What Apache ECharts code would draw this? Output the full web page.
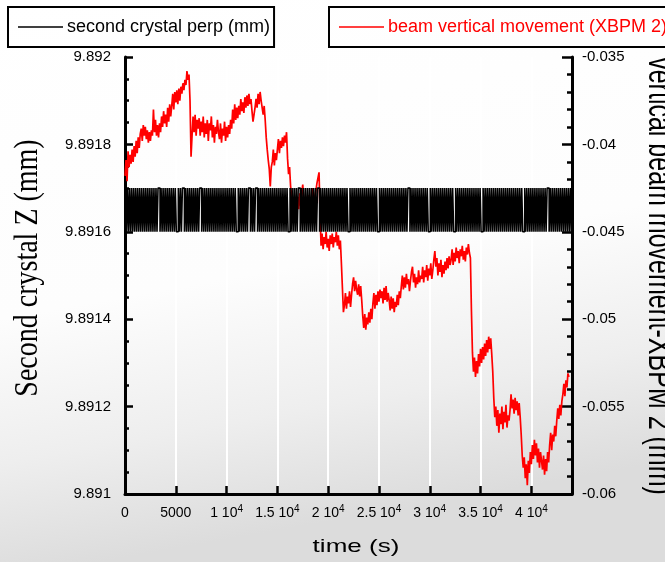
<!DOCTYPE html>
<html>
<head>
<meta charset="utf-8">
<script src="https://cdn.jsdelivr.net/npm/echarts@6/dist/echarts.min.js"></script>
<style>
  html, body { margin: 0; padding: 0; background: #fff; }
  #chart { width: 665px; height: 562px; }
</style>
</head>
<body>
<div id="chart"></div>
<script>
// Series names
const crystalName = 'second crystal perp (mm)';
const xbpmName = 'beam vertical movement (XBPM 2)';

// Both signals were logged every 100 s
const sampleStep = 100;

// Second crystal perpendicular position (mm), left axis
const crystalZ = [
  9.8916,9.8917,9.8916,9.8917,9.8916,9.8917,9.8916,9.8917,9.8916,9.8917,9.8916,9.8917,9.8916,9.8917,9.8916,9.8917,9.8916,9.8917,9.8916,9.8917,
  9.8916,9.8917,9.8916,9.8917,9.8916,9.8917,9.8916,9.8917,9.8916,9.8917,9.8916,9.8917,9.8916,9.8917,9.8917,9.8916,9.8917,9.8916,9.8917,9.8916,
  9.8917,9.8916,9.8917,9.8916,9.8917,9.8916,9.8917,9.8916,9.8917,9.8916,9.8917,9.8916,9.8916,9.8917,9.8916,9.8917,9.8916,9.8917,9.8917,9.8916,
  9.8917,9.8916,9.8917,9.8916,9.8917,9.8916,9.8917,9.8916,9.8917,9.8916,9.8917,9.8916,9.8917,9.8916,9.8917,9.8917,9.8916,9.8917,9.8916,9.8917,
  9.8916,9.8917,9.8916,9.8917,9.8916,9.8917,9.8916,9.8917,9.8916,9.8917,9.8916,9.8917,9.8916,9.8917,9.8916,9.8917,9.8916,9.8917,9.8916,9.8917,
  9.8916,9.8917,9.8916,9.8917,9.8916,9.8917,9.8916,9.8917,9.8916,9.8917,9.8916,9.8916,9.8917,9.8916,9.8917,9.8916,9.8917,9.8916,9.8917,9.8916,
  9.8917,9.8916,9.8917,9.8917,9.8916,9.8917,9.8916,9.8917,9.8916,9.8917,9.8917,9.8916,9.8917,9.8916,9.8917,9.8916,9.8917,9.8916,9.8917,9.8916,
  9.8917,9.8916,9.8917,9.8916,9.8917,9.8916,9.8917,9.8916,9.8917,9.8916,9.8917,9.8916,9.8917,9.8916,9.8917,9.8916,9.8917,9.8916,9.8917,9.8916,
  9.8917,9.8916,9.8916,9.8917,9.8916,9.8917,9.8916,9.8917,9.8916,9.8917,9.8916,9.8917,9.8917,9.8916,9.8917,9.8916,9.8917,9.8916,9.8917,9.8916,
  9.8917,9.8916,9.8917,9.8916,9.8917,9.8916,9.8917,9.8916,9.8917,9.8916,9.8917,9.8917,9.8916,9.8917,9.8916,9.8917,9.8916,9.8917,9.8916,9.8917,
  9.8916,9.8917,9.8916,9.8917,9.8916,9.8917,9.8916,9.8917,9.8916,9.8917,9.8916,9.8917,9.8916,9.8917,9.8916,9.8917,9.8916,9.8917,9.8916,9.8917,
  9.8916,9.8916,9.8917,9.8916,9.8917,9.8916,9.8917,9.8916,9.8917,9.8916,9.8917,9.8916,9.8917,9.8916,9.8917,9.8916,9.8917,9.8916,9.8917,9.8916,
  9.8917,9.8916,9.8917,9.8916,9.8917,9.8916,9.8917,9.8916,9.8917,9.8916,9.8916,9.8917,9.8916,9.8917,9.8916,9.8917,9.8916,9.8917,9.8916,9.8917,
  9.8916,9.8917,9.8916,9.8917,9.8916,9.8917,9.8916,9.8917,9.8916,9.8917,9.8916,9.8917,9.8916,9.8917,9.8916,9.8917,9.8916,9.8917,9.8916,9.8917,
  9.8917,9.8916,9.8917,9.8916,9.8917,9.8916,9.8917,9.8916,9.8917,9.8916,9.8917,9.8916,9.8917,9.8916,9.8917,9.8916,9.8917,9.8916,9.8917,9.8916,
  9.8916,9.8917,9.8916,9.8917,9.8916,9.8917,9.8916,9.8917,9.8916,9.8917,9.8916,9.8917,9.8916,9.8917,9.8916,9.8917,9.8916,9.8917,9.8916,9.8917,
  9.8916,9.8917,9.8916,9.8917,9.8916,9.8916,9.8917,9.8916,9.8917,9.8916,9.8917,9.8916,9.8917,9.8916,9.8917,9.8916,9.8917,9.8916,9.8917,9.8916,
  9.8917,9.8916,9.8917,9.8916,9.8917,9.8916,9.8917,9.8916,9.8917,9.8916,9.8917,9.8916,9.8916,9.8917,9.8916,9.8917,9.8916,9.8917,9.8916,9.8917,
  9.8916,9.8917,9.8916,9.8917,9.8916,9.8917,9.8916,9.8917,9.8916,9.8917,9.8916,9.8917,9.8916,9.8917,9.8916,9.8917,9.8916,9.8917,9.8916,9.8917,
  9.8916,9.8917,9.8916,9.8917,9.8916,9.8917,9.8916,9.8917,9.8916,9.8917,9.8916,9.8917,9.8916,9.8916,9.8917,9.8916,9.8917,9.8916,9.8917,9.8916,
  9.8917,9.8916,9.8917,9.8916,9.8917,9.8916,9.8917,9.8916,9.8917,9.8916,9.8917,9.8916,9.8917,9.8916,9.8917,9.8916,9.8917,9.8917,9.8916,9.8917,
  9.8916,9.8917,9.8916,9.8917,9.8916,9.8917,9.8916,9.8917,9.8916,9.8917,9.8916,9.8917,9.8916,9.8917,9.8916,9.8917,9.8916,9.8917,9.8916,9.8917,
  9.8916
];

// Vertical beam position at XBPM 2 (mm), right axis
const xbpmZ = [
  -0.0418,-0.0409,-0.0421,-0.0404,-0.0413,-0.0406,-0.0411,-0.0403,-0.0410,-0.0401,
  -0.0407,-0.0398,-0.0405,-0.0396,-0.0402,-0.0394,-0.0391,-0.0398,-0.0389,-0.0395,
  -0.0390,-0.0397,-0.0392,-0.0399,-0.0393,-0.0398,-0.0392,-0.0395,-0.0380,-0.0393,
  -0.0386,-0.0395,-0.0389,-0.0396,-0.0388,-0.0393,-0.0384,-0.0390,-0.0381,-0.0388,
  -0.0383,-0.0390,-0.0379,-0.0387,-0.0377,-0.0384,-0.0378,-0.0371,-0.0380,-0.0370,
  -0.0376,-0.0369,-0.0377,-0.0368,-0.0375,-0.0367,-0.0371,-0.0365,-0.0369,-0.0363,
  -0.0366,-0.0358,-0.0363,-0.0360,-0.0375,-0.0407,-0.0395,-0.0384,-0.0393,-0.0383,
  -0.0395,-0.0386,-0.0391,-0.0385,-0.0395,-0.0387,-0.0393,-0.0384,-0.0396,-0.0388,
  -0.0394,-0.0386,-0.0398,-0.0388,-0.0392,-0.0384,-0.0396,-0.0389,-0.0399,-0.0390,
  -0.0394,-0.0386,-0.0393,-0.0397,-0.0388,-0.0399,-0.0391,-0.0395,-0.0387,-0.0398,
  -0.0390,-0.0396,-0.0389,-0.0394,-0.0386,-0.0391,-0.0380,-0.0388,-0.0377,-0.0386,
  -0.0379,-0.0385,-0.0378,-0.0383,-0.0374,-0.0381,-0.0376,-0.0382,-0.0373,-0.0379,
  -0.0372,-0.0378,-0.0371,-0.0377,-0.0374,-0.0381,-0.0387,-0.0383,-0.0379,-0.0374,
  -0.0379,-0.0371,-0.0377,-0.0370,-0.0375,-0.0376,-0.0383,-0.0378,-0.0386,-0.0396,
  -0.0403,-0.0409,-0.0414,-0.0424,-0.0413,-0.0410,-0.0403,-0.0412,-0.0405,-0.0409,
  -0.0403,-0.0397,-0.0405,-0.0398,-0.0402,-0.0396,-0.0401,-0.0395,-0.0399,-0.0393,
  -0.0408,-0.0417,-0.0413,-0.0424,-0.0429,-0.0436,-0.0431,-0.0440,-0.0433,-0.0438,
  -0.0430,-0.0437,-0.0428,-0.0435,-0.0427,-0.0423,-0.0433,-0.0438,-0.0430,-0.0436,
  -0.0429,-0.0439,-0.0432,-0.0437,-0.0428,-0.0425,-0.0434,-0.0430,-0.0426,-0.0422,
  -0.0419,-0.0416,-0.0440,-0.0458,-0.0451,-0.0460,-0.0453,-0.0457,-0.0450,-0.0459,
  -0.0454,-0.0461,-0.0452,-0.0457,-0.0451,-0.0459,-0.0453,-0.0456,-0.0450,-0.0458,
  -0.0452,-0.0460,-0.0455,-0.0468,-0.0482,-0.0496,-0.0492,-0.0485,-0.0494,-0.0487,
  -0.0491,-0.0484,-0.0493,-0.0486,-0.0480,-0.0476,-0.0484,-0.0478,-0.0483,-0.0486,
  -0.0480,-0.0487,-0.0481,-0.0489,-0.0498,-0.0505,-0.0497,-0.0506,-0.0499,-0.0503,
  -0.0496,-0.0502,-0.0494,-0.0500,-0.0491,-0.0485,-0.0494,-0.0486,-0.0492,-0.0484,
  -0.0490,-0.0483,-0.0488,-0.0484,-0.0491,-0.0482,-0.0489,-0.0481,-0.0490,-0.0485,
  -0.0489,-0.0495,-0.0487,-0.0494,-0.0488,-0.0496,-0.0490,-0.0493,-0.0486,-0.0492,
  -0.0484,-0.0488,-0.0481,-0.0475,-0.0483,-0.0476,-0.0482,-0.0474,-0.0480,-0.0477,
  -0.0484,-0.0478,-0.0473,-0.0470,-0.0479,-0.0474,-0.0482,-0.0476,-0.0480,-0.0472,
  -0.0479,-0.0475,-0.0477,-0.0470,-0.0479,-0.0472,-0.0476,-0.0469,-0.0478,-0.0471,
  -0.0475,-0.0468,-0.0477,-0.0472,-0.0466,-0.0461,-0.0470,-0.0465,-0.0475,-0.0468,
  -0.0473,-0.0466,-0.0476,-0.0469,-0.0474,-0.0467,-0.0472,-0.0465,-0.0471,-0.0464,
  -0.0469,-0.0466,-0.0460,-0.0469,-0.0462,-0.0467,-0.0459,-0.0465,-0.0461,-0.0468,
  -0.0460,-0.0464,-0.0458,-0.0466,-0.0461,-0.0467,-0.0459,-0.0463,-0.0457,-0.0462,
  -0.0465,-0.0495,-0.0519,-0.0530,-0.0522,-0.0533,-0.0524,-0.0531,-0.0520,-0.0527,
  -0.0517,-0.0525,-0.0516,-0.0523,-0.0514,-0.0521,-0.0512,-0.0519,-0.0510,-0.0517,
  -0.0511,-0.0520,-0.0530,-0.0545,-0.0556,-0.0550,-0.0561,-0.0552,-0.0565,-0.0554,
  -0.0560,-0.0550,-0.0563,-0.0553,-0.0559,-0.0549,-0.0562,-0.0555,-0.0558,-0.0552,
  -0.0543,-0.0551,-0.0546,-0.0554,-0.0545,-0.0552,-0.0547,-0.0555,-0.0548,-0.0556,
  -0.0566,-0.0578,-0.0585,-0.0579,-0.0591,-0.0583,-0.0595,-0.0581,-0.0588,-0.0576,
  -0.0583,-0.0572,-0.0580,-0.0569,-0.0578,-0.0571,-0.0582,-0.0574,-0.0585,-0.0576,
  -0.0581,-0.0586,-0.0578,-0.0589,-0.0580,-0.0587,-0.0576,-0.0582,-0.0572,-0.0565,
  -0.0575,-0.0566,-0.0570,-0.0561,-0.0567,-0.0558,-0.0551,-0.0557,-0.0549,-0.0555,
  -0.0547,-0.0543,-0.0537,-0.0544,-0.0535,-0.0539,-0.0531,-0.0533
];

// Tick labels ("a^b" = a with superscript b)
const timeTickLabels = ['0', '5000', '1 10^4', '1.5 10^4', '2 10^4', '2.5 10^4', '3 10^4', '3.5 10^4', '4 10^4'];
const crystalTickLabels = ['9.891', '9.8912', '9.8914', '9.8916', '9.8918', '9.892'];
const xbpmTickLabels = ['-0.06', '-0.055', '-0.05', '-0.045', '-0.04', '-0.035'];

// Axis titles
const timeTitle = 'time (s)';
const crystalTitle = 'Second crystal Z (mm)';
const xbpmTitle = 'vertical beam movement-XBPM 2 (mm)';

const toPairs = (vals) => vals.map((v, i) => [i * sampleStep, v]);

const chart = echarts.init(document.getElementById('chart'), null, { renderer: 'canvas' });

const sans = '"Liberation Sans", Arial, Helvetica, sans-serif';
const serif = '"Liberation Serif", "Times New Roman", Times, serif';

// Boxed legend, one box per series
const legendBase = {
  orient: 'horizontal',
  top: 7,
  padding: [9, 4, 9, 10],
  icon: 'rect',
  itemWidth: 45,
  itemHeight: 1.3,
  itemGap: 0,
  borderColor: '#000',
  borderWidth: 2,
  borderRadius: 0,
  selectedMode: false,
  backgroundColor: 'transparent'
};

chart.setOption({
  animation: false,
  backgroundColor: {
    type: 'linear', x: 0, y: 0, x2: 0.15, y2: 1,
    colorStops: [
      { offset: 0, color: '#ffffff' },
      { offset: 0.55, color: '#fdfdfd' },
      { offset: 0.8, color: '#eeeeee' },
      { offset: 1, color: '#dcdcdc' }
    ]
  },
  legend: [
    Object.assign({}, legendBase, {
      left: 8,
      data: [crystalName],
      textStyle: { fontFamily: sans, fontSize: 18, lineHeight: 22, color: '#000', padding: [0, 0, 0, -1] }
    }),
    Object.assign({}, legendBase, {
      left: 329,
      data: [xbpmName],
      textStyle: { fontFamily: sans, fontSize: 18, lineHeight: 22, color: '#ff0000', padding: [0, 0, 0, -1] }
    })
  ],
  grid: {
    left: 125, right: 93, top: 57, bottom: 68,
    containLabel: false,
    outerBoundsMode: 'none'
  },
  xAxis: {
    type: 'value',
    min: 0, max: 44000, interval: 5000,
    axisLine: { show: true, lineStyle: { color: '#000', width: 3 } },
    axisTick: { show: true, inside: true, length: 8, lineStyle: { color: '#000', width: 2.5 } },
    splitLine: { show: true, lineStyle: { color: '#ffffff', width: 2 } },
    axisLabel: {
      margin: 10,
      color: '#000',
      fontFamily: sans,
      fontSize: 14,
      showMaxLabel: false,
      formatter: (v) => {
        const k = Math.round(v / 5000);
        if (Math.abs(v - k * 5000) > 1 || !timeTickLabels[k]) return '';
        const parts = timeTickLabels[k].split('^');
        return parts.length > 1 ? '{b|' + parts[0] + '}{s|' + parts[1] + '}' : '{b|' + parts[0] + '}';
      },
      rich: {
        b: { fontFamily: sans, fontSize: 14, color: '#000', lineHeight: 18 },
        s: { fontFamily: sans, fontSize: 10, color: '#000', lineHeight: 18, verticalAlign: 'top', padding: [0, 0, 7, 0] }
      }
    }
  },
  yAxis: [
    {
      type: 'value',
      position: 'left',
      min: 9.891, max: 9.892, interval: 0.0002,
      axisLine: { show: true, lineStyle: { color: '#000', width: 3 } },
      axisTick: { show: true, inside: true, length: 8, lineStyle: { color: '#000', width: 2.5 } },
      minorTick: { show: true, splitNumber: 4, length: 4, lineStyle: { color: '#000', width: 2.5 } },
      splitLine: { show: false },
      axisLabel: {
        margin: 14, color: '#000', fontFamily: sans, fontSize: 15,
        formatter: (v) => crystalTickLabels[Math.round((v - 9.891) / 0.0002)] || ''
      }
    },
    {
      type: 'value',
      position: 'right',
      min: -0.06, max: -0.035, interval: 0.005,
      axisLine: { show: true, lineStyle: { color: '#000', width: 3 } },
      axisTick: { show: true, inside: true, length: 10, lineStyle: { color: '#000', width: 2.5 } },
      minorTick: { show: true, splitNumber: 5, length: 5, lineStyle: { color: '#000', width: 2.5 } },
      splitLine: { show: false },
      axisLabel: {
        margin: 10, color: '#000', fontFamily: sans, fontSize: 15,
        formatter: (v) => xbpmTickLabels[Math.round((v + 0.06) / 0.005)] || ''
      }
    }
  ],
  graphic: [
    {
      // left title, reads bottom-to-top; text bottom edge sits at x = 45
      type: 'text', x: 45, y: 268, rotation: Math.PI / 2, scaleY: 1.2, silent: true,
      style: { text: crystalTitle, fontFamily: serif, fontSize: 28, fill: '#000', align: 'center', verticalAlign: 'bottom' }
    },
    {
      // right title, reads top-to-bottom and runs off the right edge
      type: 'text', x: 641, y: 276, rotation: -Math.PI / 2, scaleY: 1.4, silent: true,
      style: { text: xbpmTitle, fontFamily: sans, fontSize: 25, fill: '#000', align: 'center', verticalAlign: 'bottom' }
    },
    {
      type: 'text', x: 356, y: 547, scaleX: 1.37, silent: true,
      style: { text: timeTitle, fontFamily: sans, fontSize: 19, fill: '#000', align: 'center', verticalAlign: 'middle' }
    }
  ],
  series: [
    {
      name: xbpmName,
      type: 'line',
      yAxisIndex: 1,
      symbol: 'none',
      data: toPairs(xbpmZ),
      lineStyle: { color: '#ff0000', width: 1.7 },
      itemStyle: { color: '#ff0000' },
      z: 2
    },
    {
      name: crystalName,
      type: 'line',
      yAxisIndex: 0,
      symbol: 'none',
      step: 'middle',
      data: toPairs(crystalZ),
      lineStyle: { color: '#000', width: 1.6 },
      itemStyle: { color: '#000' },
      z: 3
    }
  ]
});
</script>
</body>
</html>
